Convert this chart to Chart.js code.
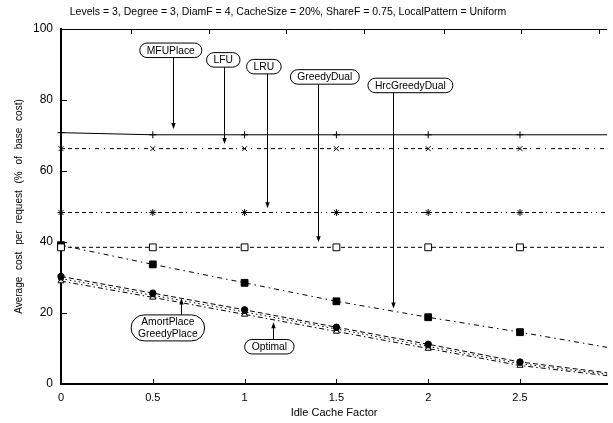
<!DOCTYPE html>
<html>
<head>
<meta charset="utf-8">
<script src="https://cdn.jsdelivr.net/npm/chart.js@4"></script>
<style>
html, body { margin: 0; padding: 0; background: #fff; }
#wrap { width: 613px; height: 423px; }
</style>
</head>
<body>
<div id="wrap"><canvas id="chart"></canvas></div>
<script>
"use strict"

// values
const idleFactor = [0, 0.5, 1, 1.5, 2, 2.5, 3]
const mfuPlace = [70.8, 70.2, 70.2, 70.2, 70.2, 70.2, 70.2]
const lfu = [66.3, 66.3, 66.3, 66.3, 66.3, 66.3, 66.3]
const lru = [48.3, 48.3, 48.3, 48.3, 48.3, 48.3, 48.3]
const greedyDual = [38.5, 38.5, 38.5, 38.5, 38.5, 38.5, 38.5]
const hrcGreedyDual = [39.1, 33.7, 28.5, 23.3, 18.8, 14.6, 10.1]
const amortPlace = [30.3, 25.6, 20.9, 16.0, 11.2, 6.2, 3.0]
const greedyPlace = [29.7, 25.0, 20.3, 15.5, 10.6, 5.7, 2.6]
const optimal = [29.0, 24.4, 19.6, 14.8, 10.0, 5.2, 2.2]

const xTicks = [0, 0.5, 1, 1.5, 2, 2.5]
const yTicks = [0, 20, 40, 60, 80, 100]
const topTicks = [0.382, 0.805, 1.226, 1.652, 2.084, 2.508, 2.933]

const chartTitle = "Levels = 3, Degree = 3, DiamF = 4, CacheSize = 20%, ShareF = 0.75, LocalPattern = Uniform"
const xTitle = "Idle Cache Factor"
const yTitle = "Average cost per request (% of base cost)"

// callout boxes: box centre and arrow tip, in data units
const notes = [
	{ text: ["MFUPlace"], bx: 0.598, by: 94.0, ax: 0.609, ay: 71.8 },
	{ text: ["LFU"], bx: 0.884, by: 91.3, ax: 0.889, ay: 67.6 },
	{ text: ["LRU"], bx: 1.105, by: 89.4, ax: 1.121, ay: 49.5 },
	{ text: ["GreedyDual"], bx: 1.437, by: 86.5, ax: 1.40, ay: 39.9 },
	{ text: ["HrcGreedyDual"], bx: 1.903, by: 84.1, ax: 1.81, ay: 21.3 },
	{ text: ["AmortPlace", "GreedyPlace"], bx: 0.582, by: 15.8, ax: 0.654, ay: 24.1 },
	{ text: ["Optimal"], bx: 1.135, by: 10.5, ax: 1.157, ay: 17.4 }
]

const FONT = "'Liberation Sans', Arial, Helvetica, sans-serif"

function series(label, values, style) {
	return Object.assign({
		label: label,
		data: values.map(function (v, i) { return { x: idleFactor[i], y: v } }),
		borderColor: "#000",
		backgroundColor: "#000",
		borderWidth: 1,
		pointBorderColor: "#000",
		pointBorderWidth: 1,
		tension: 0,
		clip: { left: 10, top: 10, bottom: 10, right: 0 }
	}, style)
}

const decor = {
	id: "decor",
	afterDraw: function (chart) {
		const ctx = chart.ctx
		const a = chart.chartArea
		const xs = chart.scales.x
		const ys = chart.scales.y
		ctx.save()
		ctx.strokeStyle = "#000"
		ctx.fillStyle = "#000"

		// top frame + inward ticks
		ctx.lineWidth = 1
		ctx.beginPath()
		ctx.moveTo(a.left, a.top + 0.5)
		ctx.lineTo(a.right, a.top + 0.5)
		topTicks.forEach(function (v) {
			const px = Math.round(xs.getPixelForValue(v)) + 0.5
			ctx.moveTo(px, a.top)
			ctx.lineTo(px, a.top + 5)
		})
		xTicks.forEach(function (v) {
			if (v === 0) return
			const px = Math.round(xs.getPixelForValue(v)) + 0.5
			ctx.moveTo(px, a.bottom)
			ctx.lineTo(px, a.bottom - 5)
		})
		yTicks.forEach(function (v) {
			if (v === 0) return
			const py = Math.round(ys.getPixelForValue(v)) + 0.5
			ctx.moveTo(a.left, py)
			ctx.lineTo(a.left + 6, py)
		})
		ctx.stroke()

		// title
		ctx.font = "10.5px " + FONT
		ctx.textAlign = "center"
		ctx.textBaseline = "middle"
		ctx.fillText(chartTitle, 288, 12)

		// y title, wide word gaps as in the original
		ctx.save()
		ctx.translate(19, (a.top + a.bottom) / 2)
		ctx.rotate(-Math.PI / 2)
		ctx.font = "10px " + FONT
		if ("wordSpacing" in ctx) ctx.wordSpacing = "4px"
		ctx.fillText(yTitle, 0, 0)
		ctx.restore()

		// callouts
		ctx.font = "10.3px " + FONT
		notes.forEach(function (n) {
			const cx = xs.getPixelForValue(n.bx)
			const cy = ys.getPixelForValue(n.by)
			const lh = 11.5
			let w = 0
			n.text.forEach(function (t) { w = Math.max(w, ctx.measureText(t).width) })
			w += 14
			const h = n.text.length * lh + 3
			const x0 = cx - w / 2
			const y0 = cy - h / 2

			const ax = Math.round(xs.getPixelForValue(n.ax)) + 0.5
			const ay = ys.getPixelForValue(n.ay)
			const down = ay > cy
			const startY = down ? y0 + h : y0
			const dir = down ? 1 : -1
			ctx.lineWidth = 1
			ctx.beginPath()
			ctx.moveTo(ax, startY)
			ctx.lineTo(ax, ay - dir * 5)
			ctx.stroke()
			ctx.beginPath()
			ctx.moveTo(ax, ay)
			ctx.lineTo(ax - 2.2, ay - dir * 6)
			ctx.lineTo(ax + 2.2, ay - dir * 6)
			ctx.closePath()
			ctx.fill()

			ctx.beginPath()
			ctx.roundRect(x0, y0, w, h, h / 2)
			ctx.fillStyle = "#fff"
			ctx.fill()
			ctx.stroke()
			ctx.fillStyle = "#000"
			n.text.forEach(function (t, i) {
				ctx.fillText(t, cx, y0 + 1.5 + lh * (i + 0.5) + 0.5)
			})
		})
		ctx.restore()
	}
}

new Chart(document.getElementById("chart"), {
	type: "line",
	data: {
		datasets: [
			series("MFUPlace", mfuPlace, { pointStyle: "cross", pointRadius: 3.5 }),
			series("LFU", lfu, { pointStyle: "crossRot", pointRadius: 3.5, borderDash: [4, 3, 4, 3, 4, 3, 4, 3, 1, 5, 4, 5, 1, 5] }),
			series("LRU", lru, { pointStyle: "star", pointRadius: 3.5, borderDash: [4, 3, 4, 3, 4, 3, 4, 3, 4, 3, 1, 4, 1, 4] }),
			series("GreedyDual", greedyDual, { pointStyle: "rect", pointRadius: 4.8, backgroundColor: "#fff", borderDash: [4, 3] }),
			series("HrcGreedyDual", hrcGreedyDual, { pointStyle: "rect", pointRadius: 4.8, borderDash: [5, 4, 1.5, 4] }),
			series("AmortPlace", amortPlace, { pointStyle: "circle", pointRadius: 3.2, borderDash: [5, 3] }),
			series("GreedyPlace", greedyPlace, { pointStyle: "triangle", pointRadius: 2.8, backgroundColor: "#fff", borderDash: [1.5, 3] }),
			series("Optimal", optimal, { pointStyle: "triangle", pointRadius: 3.5, backgroundColor: "#fff", borderDash: [5, 3, 1.5, 3] })
		]
	},
	options: {
		responsive: true,
		maintainAspectRatio: false,
		animation: false,
		layout: { padding: { top: 29, right: 1, left: 0, bottom: 0 } },
		plugins: {
			legend: { display: false },
			tooltip: { enabled: false },
			title: { display: false }
		},
		scales: {
			x: {
				type: "linear",
				min: 0,
				max: 2.975,
				afterBuildTicks: function (scale) {
					scale.ticks = xTicks.map(function (v) { return { value: v } })
				},
				afterFit: function (scale) { scale.height = 39 },
				grid: { display: false, drawTicks: false },
				border: { display: true, color: "#000", width: 2 },
				ticks: {
					color: "#000",
					font: { family: FONT, size: 11 },
					padding: 7,
					maxRotation: 0,
					callback: function (v) { return String(v) }
				},
				title: {
					display: true,
					text: xTitle,
					color: "#000",
					font: { family: FONT, size: 11 },
					padding: { top: 0, bottom: 3 }
				}
			},
			y: {
				min: 0,
				max: 100,
				afterBuildTicks: function (scale) {
					scale.ticks = yTicks.map(function (v) { return { value: v } })
				},
				afterFit: function (scale) { scale.width = 61 },
				grid: { display: false, drawTicks: false },
				border: { display: true, color: "#000", width: 2 },
				ticks: {
					color: "#000",
					font: { family: FONT, size: 12 },
					padding: 8,
					callback: function (v) { return String(v) }
				}
			}
		}
	},
	plugins: [decor]
})
</script>
</body>
</html>
